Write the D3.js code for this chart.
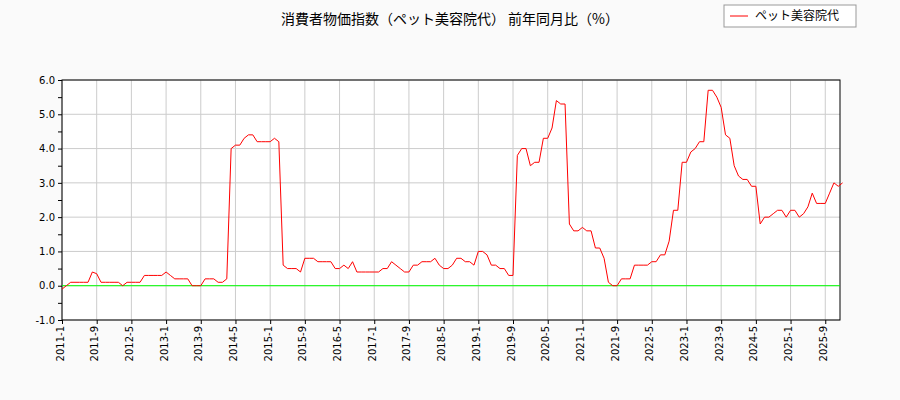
<!DOCTYPE html><html><head><meta charset="utf-8"><script src="https://cdn.jsdelivr.net/npm/d3@7"></script>
<style>body{margin:0;background:#fafafa;font-family:"DejaVu Sans",sans-serif}</style></head><body><svg id="c" width="900" height="400"></svg>
<script>
const startYear = 2011;
const values = [
-0.1,0,0.1,0.1,0.1,0.1,0.1,0.4,0.35,0.1,0.1,0.1,
0.1,0.1,0,0.1,0.1,0.1,0.1,0.3,0.3,0.3,0.3,0.3,
0.4,0.3,0.2,0.2,0.2,0.2,0,0,0,0.2,0.2,0.2,
0.1,0.1,0.2,4.0,4.1,4.1,4.3,4.4,4.4,4.2,4.2,4.2,
4.2,4.3,4.2,0.6,0.5,0.5,0.5,0.4,0.8,0.8,0.8,0.7,
0.7,0.7,0.7,0.5,0.5,0.6,0.5,0.7,0.4,0.4,0.4,
0.4,0.4,0.4,0.5,0.5,0.7,0.6,0.5,0.4,0.4,0.6,0.6,
0.7,0.7,0.7,0.8,0.6,0.5,0.5,0.6,0.8,0.8,0.7,0.7,
0.6,1.0,1.0,0.9,0.6,0.6,0.5,0.5,0.3,0.3,3.8,4.0,
4.0,3.5,3.6,3.6,4.3,4.3,4.6,5.4,5.3,5.3,1.8,1.6,
1.6,1.7,1.6,1.6,1.1,1.1,0.8,0.1,0,0,0.2,0.2,
0.2,0.6,0.6,0.6,0.6,0.7,0.7,0.9,0.9,1.3,2.2,2.2,
3.6,3.6,3.9,4.0,4.2,4.2,5.7,5.7,5.5,5.2,4.4,4.3,
3.5,3.2,3.1,3.1,2.9,2.9,1.8,2.0,2.0,2.1,2.2,2.2,
2.0,2.2,2.2,2.0,2.1,2.3,2.7,2.4,2.4,2.4,2.7,3.0,
2.9,3.0];
const yTicks = [-1,0,1,2,3,4,5,6];
const seriesName = "ペット美容院代";
const title = "消費者物価指数（ペット美容院代） 前年同月比（%）";

const svg = d3.select("#c");
const L=62,R=840,T=80,B=320;
const x = d3.scaleLinear().domain([0,179.4]).range([L,R]);
const y = d3.scaleLinear().domain([-1,6]).range([B,T]);
svg.append("rect").attr("x",L).attr("y",T).attr("width",R-L).attr("height",B-T).attr("fill","#fff");
const xt = d3.range(0,180,8);
const g = svg.append("g");
g.selectAll(".vx").data(xt).join("line").attr("x1",d=>x(d)).attr("x2",d=>x(d)).attr("y1",T).attr("y2",B).attr("stroke","#ccc");
g.selectAll(".hy").data(yTicks).join("line").attr("x1",L).attr("x2",R).attr("y1",d=>y(d)).attr("y2",d=>y(d)).attr("stroke","#ccc");
svg.append("g").attr("transform",`translate(${L},0)`).call(d3.axisLeft(y).tickValues(d3.range(-1,6.01,0.5)).tickSize(4).tickFormat(d=>Number.isInteger(d)?d.toFixed(1):""));
const xa = svg.append("g").attr("transform",`translate(0,${B})`).call(d3.axisBottom(x).tickValues(xt).tickSize(4).tickFormat(d=>`${startYear+Math.floor(d/12)}-${d%12+1}`));
xa.selectAll("text").attr("transform","rotate(-90)").attr("text-anchor","end").attr("dx","-0.6em").attr("dy","-0.5em").attr("x",0).attr("y",6);
svg.selectAll(".domain").remove();
svg.append("rect").attr("x",L).attr("y",T).attr("width",R-L).attr("height",B-T).attr("fill","none").attr("stroke","#000");
svg.selectAll(".tick text").attr("font-size",10).attr("font-family","DejaVu Sans");
svg.append("line").attr("x1",L).attr("x2",R).attr("y1",y(0)).attr("y2",y(0)).attr("stroke","#00ff00");
svg.append("path").datum(values).attr("fill","none").attr("stroke","red").attr("stroke-width",1)
 .attr("d",d3.line().x((d,i)=>x(i)).y(d=>y(d)));
svg.append("text").attr("x",450).attr("y",24).attr("text-anchor","middle").attr("font-size",14).attr("font-family","Noto Sans CJK JP").text(title);
svg.append("rect").attr("x",724).attr("y",5).attr("width",132).attr("height",22).attr("fill","#fff").attr("stroke","#999");
svg.append("line").attr("x1",730).attr("x2",748).attr("y1",16).attr("y2",16).attr("stroke","red");
svg.append("text").attr("x",755).attr("y",20).attr("font-size",12).attr("font-family","Noto Sans CJK JP").text(seriesName);
</script></body></html>
